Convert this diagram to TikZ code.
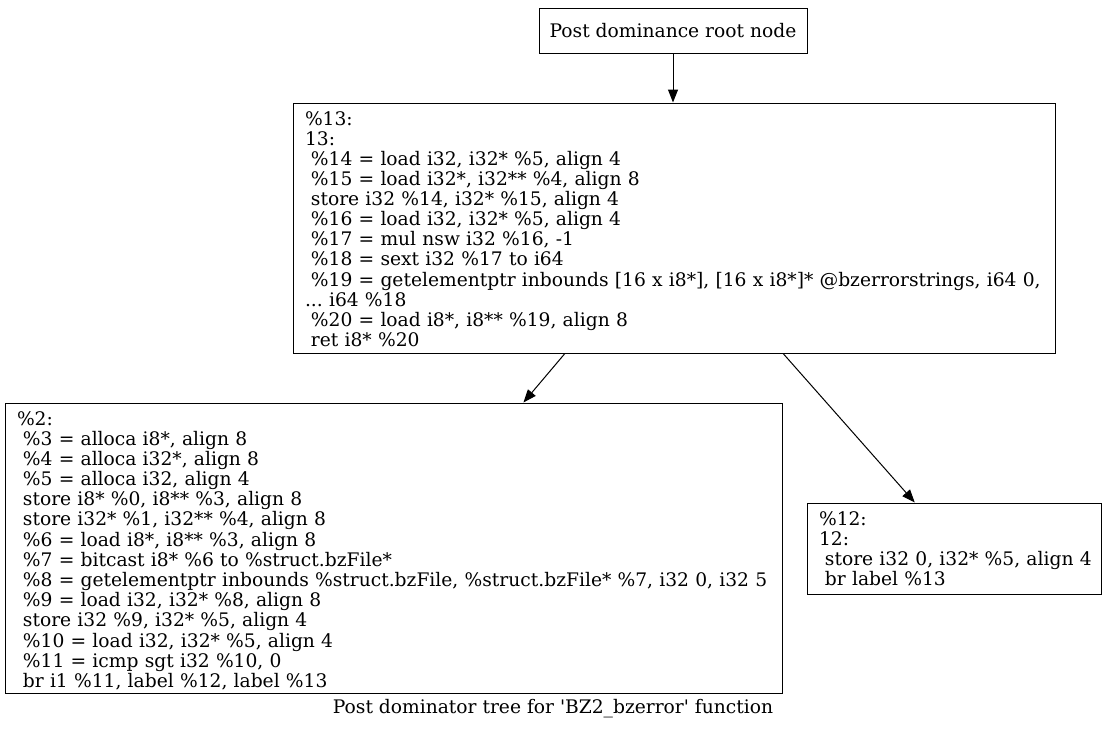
\documentclass[tikz,border=0pt]{standalone}
\usepackage{fontspec}
\newfontfamily\gvfont{DejaVu Serif}
\usetikzlibrary{arrows.meta,calc}
\newcommand\ls{\hspace*{\fontdimen2\font}}
\begin{document}
\begin{tikzpicture}[x=1pt,y=-1pt,
  gvtext/.style={font=\gvfont\fontsize{18.67}{20}\selectfont},
  box/.style={gvtext, draw, line width=1pt, rectangle, inner xsep=12pt, inner ysep=0pt, align=left},
  arr/.style={-{Triangle[length=13pt,width=10pt]}, line width=1pt}]
\useasboundingbox (0,0) rectangle (1107,731);
\node[box, minimum height=45pt, minimum width=268pt, inner xsep=0pt, align=center] (root) at (673,30.5) {Post dominance root node};
\node[box, text width=738pt, minimum height=250pt, text height=17pt, text depth=223pt] (n13) at (674,228) {\begin{tabular}[t]{@{}l@{}}
\%13:\\
13:\\
\ls\%14 = load i32, i32* \%5, align 4\\
\ls\%15 = load i32*, i32** \%4, align 8\\
\ls store i32 \%14, i32* \%15, align 4\\
\ls\%16 = load i32, i32* \%5, align 4\\
\ls\%17 = mul nsw i32 \%16, -1\\
\ls\%18 = sext i32 \%17 to i64\\
\ls\%19 = getelementptr inbounds [16 x i8*], [16 x i8*]* @bzerrorstrings, i64 0,\\
...\ i64 \%18\\
\ls\%20 = load i8*, i8** \%19, align 8\\
\ls ret i8* \%20
\end{tabular}};
\node[box, text width=753pt, minimum height=290pt, text height=17pt, text depth=263pt] (n2) at (393.5,548) {\begin{tabular}[t]{@{}l@{}}
\%2:\\
\ls\%3 = alloca i8*, align 8\\
\ls\%4 = alloca i32*, align 8\\
\ls\%5 = alloca i32, align 4\\
\ls store i8* \%0, i8** \%3, align 8\\
\ls store i32* \%1, i32** \%4, align 8\\
\ls\%6 = load i8*, i8** \%3, align 8\\
\ls\%7 = bitcast i8* \%6 to \%struct.bzFile*\\
\ls\%8 = getelementptr inbounds \%struct.bzFile, \%struct.bzFile* \%7, i32 0, i32 5\\
\ls\%9 = load i32, i32* \%8, align 8\\
\ls store i32 \%9, i32* \%5, align 4\\
\ls\%10 = load i32, i32* \%5, align 4\\
\ls\%11 = icmp sgt i32 \%10, 0\\
\ls br i1 \%11, label \%12, label \%13
\end{tabular}};
\node[box, text width=270pt, minimum height=91pt, text height=17pt, text depth=63pt] (n12) at (954,548.5) {\begin{tabular}[t]{@{}l@{}}
\%12:\\
12:\\
\ls store i32 0, i32* \%5, align 4\\
\ls br label \%13
\end{tabular}};
\node[gvtext] (cap) at (553,709) {Post dominator tree for \textquotesingle BZ2\_bzerror\textquotesingle{} function};
\draw[arr] (root.south) -- (root.south |- n13.north);
\draw[arr] ($(n13.south west)!0.357!(n13.south east)$) -- ($(n2.north west)!0.667!(n2.north east)$);
\draw[arr] ($(n13.south west)!0.643!(n13.south east)$) -- ($(n12.north west)!0.367!(n12.north east)$);
\end{tikzpicture}
\end{document}
